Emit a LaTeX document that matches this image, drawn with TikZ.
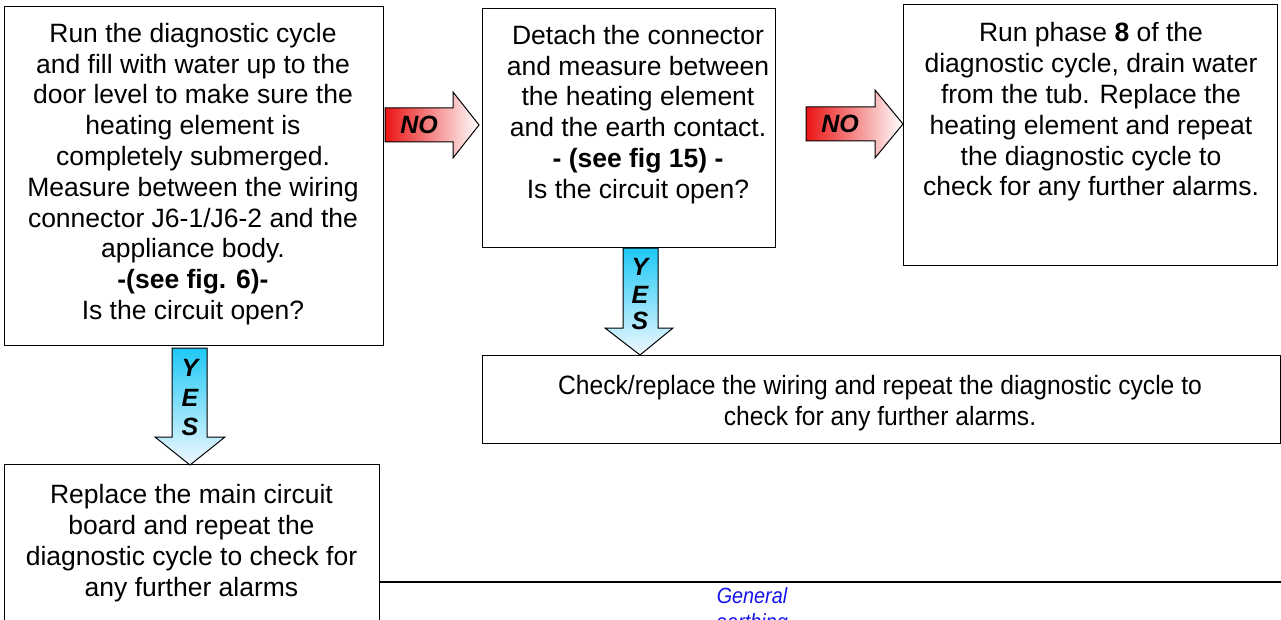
\documentclass[tikz,border=0pt]{standalone}
\usepackage{fontspec}
\setmainfont{Liberation Sans}
\definecolor{noRed}{RGB}{235,20,20}
\definecolor{yesCyan}{RGB}{30,200,245}
\definecolor{yesLight}{RGB}{240,248,255}
\definecolor{noteBlue}{RGB}{20,20,235}
\begin{document}
\begin{tikzpicture}[x=1pt,y=-1pt,
  box/.style={draw, line width=1.4pt, inner sep=0pt, anchor=north west},
  txt/.style={align=center, inner sep=0pt, font=\fontsize{26.5}{30.8}\selectfont},
  narrowtxt/.style={align=center, inner sep=0pt, font=\addfontfeature{FakeStretch=0.93}\fontsize{26.5}{30.8}\selectfont},
  arrowtxt/.style={inner sep=0pt, font=\bfseries\itshape\fontsize{25}{27}\selectfont},
  noarrow/.style={draw, line width=1pt, line join=miter, left color=noRed, right color=white},
  yesarrow/.style={draw, line width=1pt, line join=miter, top color=yesCyan, bottom color=yesLight},
  note/.style={align=center, inner sep=0pt, text=noteBlue, font=\itshape\addfontfeature{FakeStretch=0.9}\fontsize{22}{26}\selectfont}]
\useasboundingbox (0,0) rectangle (1281,620);

% boxes
\node[box, minimum width=379pt, minimum height=339pt] (b1) at (4,6) {};
\node[box, minimum width=293pt, minimum height=239pt] (b2) at (482,8) {};
\node[box, minimum width=374pt, minimum height=261pt] (b3) at (903,4) {};
\node[box, minimum width=798pt, minimum height=88pt] (b4) at (482,355) {};
\node[box, minimum width=375pt, minimum height=200pt] (b5) at (4,464) {};

% texts
\node[txt] (t1) at (193,174) {Run the diagnostic cycle\\and fill with water up to the\\door level to make sure the\\heating element is\\completely submerged.\\Measure between the wiring\\connector J6-1/J6-2 and the\\appliance body.\\\textbf{-(see fig. 6)-}\\Is the circuit open?};
\node[txt] (t2) at (638,114.5) {Detach the connector\\and measure between\\the heating element\\and the earth contact.\\\textbf{- (see fig 15) -}\\Is the circuit open?};
\node[txt] (t3) at (1091,112) {Run phase \textbf{8} of the\\diagnostic cycle, drain water\\from the tub. Replace the\\heating element and repeat\\the diagnostic cycle to\\check for any further alarms.};
\node[narrowtxt] (t4) at (880,403.5) {Check/replace the wiring and repeat the diagnostic cycle to\\check for any further alarms.};
\node[txt] (t5) at (191.5,543) {Replace the main circuit\\board and repeat the\\diagnostic cycle to check for\\any further alarms};

% NO arrows
\path[noarrow] (385,108) -- (453,108) -- (453,92) -- (479,125) -- (453,158) -- (453,142) -- (385,142) -- cycle;
\node[arrowtxt] (no1) at (419,125) {NO};
\path[noarrow] (806,107) -- (875,107) -- (875,90) -- (903,124) -- (875,158) -- (875,141) -- (806,141) -- cycle;
\node[arrowtxt] (no2) at (840,124) {NO};

% YES arrows
\path[yesarrow] (172,348) -- (207,348) -- (207,437) -- (225,437) -- (190,465) -- (155,437) -- (172,437) -- cycle;
\node[arrowtxt] (y1) at (190,368) {Y};
\node[arrowtxt] (e1) at (190,398) {E};
\node[arrowtxt] (s1) at (190,427) {S};
\path[yesarrow] (623,248) -- (658,248) -- (658,328) -- (673,328) -- (640,355) -- (605,328) -- (623,328) -- cycle;
\node[arrowtxt] (y2) at (640,267) {Y};
\node[arrowtxt] (e2) at (640,295) {E};
\node[arrowtxt] (s2) at (640,321) {S};

% bottom line and note
\coordinate (lineend) at (1281,582);
\draw[line width=2.2pt] (lineend -| b5.east) -- (lineend);
\node[note] (gen) at (752,611) {General\\earthing};
\end{tikzpicture}
\end{document}
